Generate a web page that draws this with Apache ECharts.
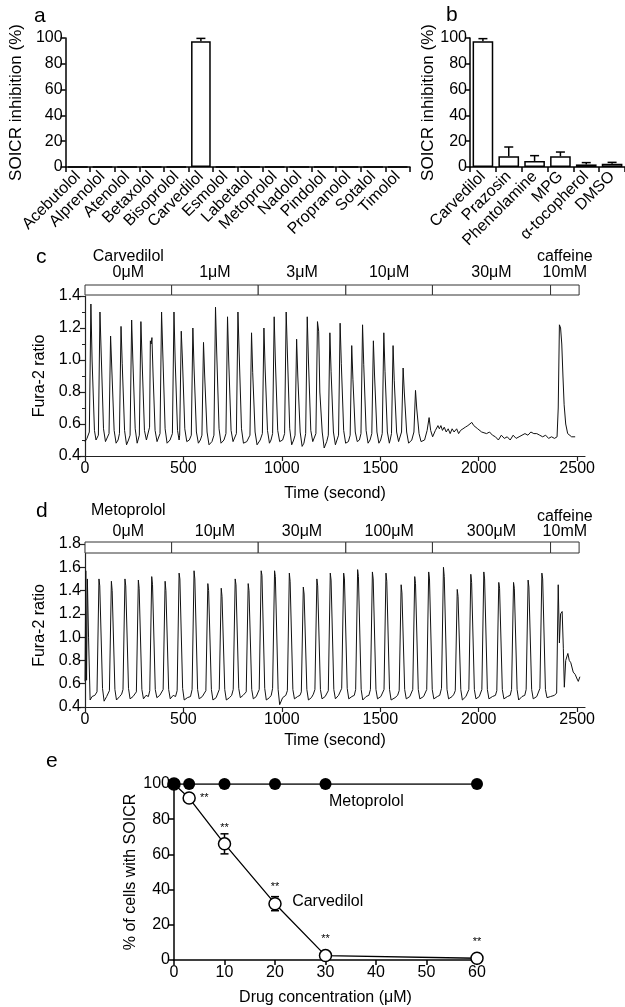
<!DOCTYPE html>
<html>
<head>
<meta charset="utf-8">
<script src="https://cdn.jsdelivr.net/npm/echarts@6/dist/echarts.min.js"></script>
<style>
  html, body { margin: 0; padding: 0; background: #fff; }
  #main { width: 625px; height: 1007px; }
</style>
</head>
<body>
<div id="main"></div>
<script>
var FONT = '"Liberation Sans", Arial, Helvetica, sans-serif';

// ---- panel a / b: SOICR inhibition
var catsA = ['Acebutolol', 'Alprenolol', 'Atenolol', 'Betaxolol', 'Bisoprolol', 'Carvedilol', 'Esmolol',
             'Labetalol', 'Metoprolol', 'Nadolol', 'Pindolol', 'Propranolol', 'Sotalol', 'Timolol'];
var valsA = [0, 0, 0, 0, 0, 97.5, 0, 0, 0, 0, 0, 0, 0, 0];
var errA  = [0, 0, 0, 0, 0, 2.2, 0, 0, 0, 0, 0, 0, 0, 0];

var catsB = ['Carvedilol', 'Prazosin', 'Phentolamine', 'MPG', 'α-tocopherol', 'DMSO'];
var valsB = [97.5, 8.3, 4.7, 8.3, 2, 2.6];
var errB  = [2, 7.2, 4.1, 3.3, 1.4, 1.0];

// ---- panel c / d: band of drug concentrations (seconds)
var bandEdges = [0, 440, 880, 1325, 1765, 2365, 2510];
var bandCConc = ['0μM', '1μM', '3μM', '10μM', '30μM', '10mM'];
var bandCTitle = ['Carvedilol', '', '', '', '', 'caffeine'];
var bandDConc = ['0μM', '10μM', '30μM', '100μM', '300μM', '10mM'];
var bandDTitle = ['Metoprolol', '', '', '', '', 'caffeine'];

// Fura-2 ratio trace, carvedilol experiment [time s, ratio]
var traceC = [
  [0,0.49],[10,0.51],[22,0.55],[30,1.35],[36,1.0],[48,0.56],[56,0.5],
  [68,0.53],[76,1.3],[82,1.05],[94,0.57],[104,0.49],[114,0.5],
  [122,0.54],[130,1.15],[136,0.95],[148,0.56],[158,0.48],[168,0.5],
  [175,0.54],[183,1.21],[189,0.98],[201,0.56],[211,0.47],[221,0.5],
  [229,0.53],[237,1.25],[243,1.0],[255,0.57],[265,0.48],
  [276,0.53],[284,1.24],[290,1.0],[302,0.56],[312,0.5],[322,0.51],
  [328,0.58],[332,1.12],[336,1.1],[340,1.14],[346,0.9],[356,0.56],[366,0.49],
  [381,0.54],[389,1.3],[395,1.05],[407,0.57],[417,0.48],[432,0.5],
  [444,0.54],[452,1.3],[458,1.0],[470,0.56],[478,0.5],
  [481,0.53],[489,1.18],[495,1.0],[507,0.57],[517,0.49],[530,0.5],
  [540,0.53],[548,1.2],[554,0.95],[566,0.55],[576,0.48],[586,0.5],
  [594,0.53],[602,1.11],[608,0.9],[620,0.55],[630,0.47],[645,0.49],
  [655,0.53],[663,1.33],[669,1.05],[681,0.57],[691,0.48],[706,0.5],
  [716,0.54],[724,1.27],[730,1.0],[742,0.56],[752,0.49],[762,0.5],
  [769,0.54],[777,1.3],[783,1.05],[795,0.57],[805,0.48],[822,0.49],[832,0.5],
  [838,0.53],[846,1.17],[852,0.92],[864,0.55],[874,0.47],[890,0.5],
  [901,0.54],[909,1.2],[915,0.95],[927,0.56],[937,0.48],[945,0.5],
  [953,0.54],[961,1.27],[967,1.0],[979,0.56],[989,0.49],[1004,0.5],
  [1014,0.54],[1022,1.3],[1028,1.05],[1040,0.57],[1050,0.47],[1060,0.5],
  [1067,0.53],[1075,1.13],[1081,0.9],[1093,0.55],[1103,0.46],[1112,0.48],
  [1121,0.54],[1129,1.27],[1135,1.0],[1147,0.56],[1157,0.49],[1165,0.5],
  [1173,0.54],[1181,1.24],[1187,1.18],[1193,0.8],[1205,0.55],[1215,0.45],[1228,0.49],
  [1236,0.53],[1244,1.17],[1250,0.93],[1262,0.55],[1272,0.47],[1280,0.5],
  [1288,0.53],[1296,1.23],[1302,0.98],[1314,0.56],[1324,0.48],[1338,0.49],
  [1347,0.53],[1355,1.09],[1361,0.88],[1373,0.55],[1383,0.49],[1394,0.5],
  [1402,0.54],[1410,1.22],[1416,0.97],[1428,0.56],[1438,0.48],[1448,0.5],
  [1457,0.54],[1465,1.12],[1471,0.9],[1483,0.55],[1493,0.48],[1502,0.5],
  [1510,0.54],[1518,1.17],[1524,0.93],[1536,0.55],[1546,0.48],[1550,0.5],
  [1557,0.54],[1565,1.09],[1571,0.87],[1583,0.55],[1593,0.49],[1600,0.5],
  [1608,0.55],[1616,0.95],[1622,0.8],[1634,0.55],[1644,0.48],[1660,0.5],
  [1671,0.55],[1679,0.81],[1685,0.7],[1697,0.54],[1707,0.49],[1725,0.5],
  [1738,0.56],[1748,0.64],[1756,0.56],[1766,0.52],
  [1780,0.56],[1793,0.59],[1800,0.57],[1808,0.59],[1816,0.56],[1825,0.58],[1835,0.55],
  [1845,0.57],[1855,0.54],[1865,0.57],[1875,0.55],[1888,0.57],[1898,0.54],[1908,0.56],
  [1920,0.57],[1932,0.58],[1945,0.59],[1955,0.6],[1965,0.61],[1975,0.59],[1985,0.6],
  [1995,0.57],[2005,0.58],[2015,0.55],[2025,0.56],[2040,0.54],[2055,0.55],[2070,0.53],
  [2085,0.52],[2100,0.5],[2115,0.53],[2130,0.51],[2145,0.52],[2160,0.5],[2175,0.53],
  [2190,0.51],[2205,0.52],[2220,0.53],[2235,0.54],[2250,0.53],[2265,0.55],[2280,0.54],
  [2295,0.54],[2310,0.53],[2325,0.52],[2340,0.53],[2355,0.51],[2370,0.52],[2385,0.51],
  [2398,0.52],[2404,0.7],[2410,1.22],[2416,1.2],[2422,1.1],[2428,0.9],[2434,0.72],
  [2442,0.6],[2452,0.54],[2462,0.53],[2472,0.52],[2482,0.53],[2490,0.52]
];

// Fura-2 ratio trace, metoprolol experiment [time s, ratio]
var traceD = [
  [0,0.62],[4,1.57],[8,0.63],[12,1.5],[18,1.0],[26,0.46],[36,0.49],[50,0.5],
  [61,0.53],[71,1.5],[75,1.44],[89,0.56],[97,0.45],[110,0.49],[118,0.5],
  [124,0.54],[134,1.48],[138,1.4],[152,0.55],[160,0.46],[176,0.49],[186,0.51],
  [193,0.55],[203,1.5],[207,1.44],[221,0.56],[229,0.47],[244,0.49],[254,0.5],
  [261,0.53],[271,1.49],[275,1.42],[289,0.55],[297,0.47],[310,0.5],[322,0.49],
  [329,0.54],[339,1.52],[343,1.45],[357,0.55],[365,0.48],[380,0.5],[390,0.49],
  [397,0.55],[407,1.48],[411,1.4],[425,0.55],[433,0.47],[448,0.5],[460,0.49],
  [468,0.54],[478,1.55],[482,1.5],[496,0.56],[504,0.46],[520,0.48],[536,0.49],
  [544,0.55],[554,1.57],[558,1.5],[572,0.55],[580,0.47],[596,0.49],[606,0.5],
  [614,0.54],[624,1.46],[628,1.4],[642,0.55],[650,0.46],[666,0.48],[676,0.49],
  [682,0.55],[692,1.42],[696,1.35],[710,0.55],[718,0.46],[734,0.48],[745,0.5],
  [753,0.55],[763,1.5],[767,1.45],[781,0.56],[789,0.48],[803,0.5],[812,0.49],
  [819,0.53],[829,1.46],[833,1.4],[847,0.55],[855,0.47],[870,0.49],[878,0.5],
  [885,0.55],[895,1.57],[899,1.53],[913,0.56],[921,0.46],[937,0.48],[946,0.5],
  [953,0.56],[963,1.57],[967,1.52],[981,0.55],[989,0.42],[1004,0.48],[1020,0.5],
  [1028,0.54],[1038,1.55],[1042,1.48],[1056,0.55],[1064,0.47],[1080,0.49],[1092,0.5],
  [1099,0.53],[1109,1.43],[1113,1.37],[1127,0.55],[1135,0.46],[1150,0.48],[1160,0.51],
  [1168,0.55],[1178,1.5],[1182,1.44],[1196,0.55],[1204,0.47],[1220,0.49],[1229,0.5],
  [1236,0.54],[1246,1.55],[1250,1.49],[1264,0.55],[1272,0.47],[1288,0.5],[1296,0.49],
  [1304,0.56],[1314,1.55],[1318,1.5],[1332,0.56],[1340,0.47],[1356,0.49],[1368,0.5],
  [1375,0.55],[1385,1.58],[1389,1.52],[1403,0.55],[1411,0.46],[1428,0.49],[1442,0.5],
  [1450,0.55],[1460,1.56],[1464,1.5],[1478,0.55],[1486,0.47],[1503,0.49],[1512,0.5],
  [1519,0.55],[1529,1.55],[1533,1.48],[1547,0.55],[1555,0.46],[1575,0.48],[1588,0.5],
  [1596,0.54],[1606,1.45],[1610,1.38],[1624,0.55],[1632,0.47],[1650,0.49],[1658,0.5],
  [1665,0.55],[1675,1.52],[1679,1.46],[1693,0.55],[1701,0.47],[1720,0.49],[1729,0.5],
  [1736,0.55],[1746,1.56],[1750,1.5],[1764,0.55],[1772,0.47],[1790,0.49],[1802,0.5],
  [1811,0.56],[1821,1.6],[1825,1.52],[1839,0.55],[1847,0.47],[1865,0.49],[1874,0.51],
  [1881,0.54],[1891,1.41],[1895,1.35],[1909,0.55],[1917,0.46],[1935,0.49],[1943,0.5],
  [1950,0.55],[1960,1.54],[1964,1.47],[1978,0.55],[1986,0.47],[2003,0.49],[2010,0.5],
  [2016,0.55],[2026,1.56],[2030,1.5],[2044,0.55],[2052,0.47],[2070,0.49],[2085,0.5],
  [2092,0.54],[2102,1.47],[2106,1.42],[2120,0.55],[2128,0.47],[2146,0.49],[2160,0.5],
  [2167,0.55],[2177,1.47],[2181,1.42],[2195,0.55],[2203,0.46],[2220,0.49],[2234,0.5],
  [2241,0.55],[2251,1.49],[2255,1.43],[2269,0.55],[2277,0.47],[2295,0.49],[2303,0.5],
  [2311,0.56],[2321,1.55],[2325,1.5],[2339,0.55],[2347,0.48],[2365,0.49],[2385,0.5],
  [2396,0.52],[2404,1.45],[2410,0.95],[2416,1.2],[2424,1.22],[2430,0.9],[2435,0.57],
  [2442,0.8],[2453,0.86],[2460,0.8],[2468,0.78],[2480,0.7],[2490,0.68],[2500,0.64],
  [2506,0.62],[2514,0.66]
];

// ---- panel e: % of cells with SOICR
var concE = [0, 3, 10, 20, 30, 60];
var metoE = [100, 100, 100, 100, 100, 100];
var carvE = [100, 92, 66, 32, 2.5, 1];
var carvErrE = [0, 0, 5.7, 4, 0, 0];
var sigE = ['', '**', '**', '**', '**', '**'];

var myChart = echarts.init(document.getElementById('main'));

function catErrRender(params, api) {
  var v = api.value(1), e = api.value(2);
  if (!e) return;
  var p0 = api.coord([api.value(0), v]);
  var p1 = api.coord([api.value(0), v + e]);
  var st = { stroke: '#000', lineWidth: 1.5 };
  return {
    type: 'group',
    children: [
      { type: 'line', shape: { x1: p0[0], y1: p0[1], x2: p1[0], y2: p1[1] }, style: st },
      { type: 'line', shape: { x1: p1[0] - 4.5, y1: p1[1], x2: p1[0] + 4.5, y2: p1[1] }, style: st }
    ]
  };
}

function bandRender(conc, title, concGap, titleGap) {
  return function (params, api) {
    var i = params.dataIndex;
    var p0 = api.coord([api.value(0), 1]);
    var p1 = api.coord([api.value(1), 0]);
    var cx = (p0[0] + p1[0]) / 2;
    var kids = [
      { type: 'rect', shape: { x: p0[0], y: p0[1], width: p1[0] - p0[0], height: p1[1] - p0[1] },
        style: { fill: '#fff', stroke: '#333', lineWidth: 1 } },
      { type: 'text', style: { text: conc[i], x: cx, y: p0[1] - concGap, align: 'center', verticalAlign: 'middle',
        fontSize: 16, fontFamily: FONT, fill: '#000' } }
    ];
    if (title[i]) {
      kids.push({ type: 'text', style: { text: title[i], x: cx, y: p0[1] - titleGap[i], align: 'center',
        verticalAlign: 'middle', fontSize: 16, fontFamily: FONT, fill: '#000' } });
    }
    return { type: 'group', children: kids };
  };
}

function bandData() {
  var d = [];
  for (var i = 0; i < bandEdges.length - 1; i++) d.push([bandEdges[i], bandEdges[i + 1]]);
  return d;
}

function eErrRender(params, api) {
  var e = api.value(2);
  if (!e) return;
  var x = api.value(0), v = api.value(1);
  var lo = api.coord([x, v - e]), hi = api.coord([x, v + e]);
  var st = { stroke: '#000', lineWidth: 1.5 };
  return {
    type: 'group',
    children: [
      { type: 'line', shape: { x1: lo[0], y1: lo[1], x2: hi[0], y2: hi[1] }, style: st },
      { type: 'line', shape: { x1: hi[0] - 4, y1: hi[1], x2: hi[0] + 4, y2: hi[1] }, style: st },
      { type: 'line', shape: { x1: lo[0] - 4, y1: lo[1], x2: lo[0] + 4, y2: lo[1] }, style: st }
    ]
  };
}

var blackAxis = { lineStyle: { color: '#000', width: 1.5 } };
var tick5 = { show: true, length: 5, lineStyle: { color: '#000', width: 1.5 } };

function pctAxis(gridIndex) {
  return {
    type: 'value', gridIndex: gridIndex, min: 0, max: 100, interval: 20,
    name: 'SOICR inhibition (%)', nameLocation: 'middle', nameGap: 33,
    nameTextStyle: { fontSize: 17, fontFamily: FONT, color: '#000' },
    axisLine: Object.assign({ show: true }, blackAxis), axisTick: tick5,
    axisLabel: { fontSize: 16, fontFamily: FONT, color: '#000', margin: 3 },
    splitLine: { show: false }
  };
}

function catAxis(gridIndex, cats) {
  return {
    type: 'category', gridIndex: gridIndex, data: cats,
    axisLine: blackAxis, axisTick: tick5,
    axisLabel: { rotate: 45, interval: 0, fontSize: 16, fontFamily: FONT, color: '#000', margin: 7 }
  };
}

function timeAxis(gridIndex, nameGap) {
  return {
    type: 'value', gridIndex: gridIndex, min: 0, max: 2540, interval: 500,
    name: 'Time (second)', nameLocation: 'middle', nameGap: nameGap,
    nameTextStyle: { fontSize: 16, fontFamily: FONT, color: '#000' },
    axisLine: { lineStyle: { color: '#222', width: 1.2 } },
    axisTick: { length: 5, lineStyle: { color: '#222', width: 1.2 } },
    axisLabel: { fontSize: 16, fontFamily: FONT, color: '#000', margin: 5,
      formatter: function (v) { return String(v); } },
    splitLine: { show: false }
  };
}

function ratioAxis(gridIndex, min, max, minor) {
  return {
    type: 'value', gridIndex: gridIndex, min: min, max: max, interval: 0.2,
    name: 'Fura-2 ratio', nameLocation: 'middle', nameGap: 32,
    nameTextStyle: { fontSize: 16, fontFamily: FONT, color: '#000' },
    axisLine: { show: true, lineStyle: { color: '#222', width: 1.2 } },
    axisTick: { length: 5, lineStyle: { color: '#222', width: 1.2 } },
    minorTick: { show: minor, splitNumber: 2, length: 3, lineStyle: { color: '#222', width: 1 } },
    axisLabel: { fontSize: 16, fontFamily: FONT, color: '#000', margin: 4,
      formatter: function (v) { return v.toFixed(1); } },
    splitLine: { show: false }
  };
}

function hiddenAxis(type, gridIndex, min, max) {
  return { type: type, gridIndex: gridIndex, min: min, max: max, show: false };
}

function panelLetter(txt, x, y) {
  return { type: 'text', left: x, top: y,
    style: { text: txt, fontSize: 21, fontFamily: FONT, fill: '#000' } };
}

option = {
  animation: false,
  backgroundColor: '#fff',
  graphic: [
    panelLetter('a', 34, 6),
    panelLetter('b', 446, 5),
    panelLetter('c', 36, 247),
    panelLetter('d', 36, 501),
    panelLetter('e', 46, 751)
  ],
  grid: [
    { left: 63, top: 38, width: 347, height: 129 },   // a
    { left: 470, top: 38, width: 155, height: 129 },  // b
    { left: 85, top: 296, width: 500, height: 160 },  // c
    { left: 85, top: 285, width: 500, height: 10 },   // c band
    { left: 85, top: 544, width: 500, height: 163 },  // d
    { left: 85, top: 542, width: 500, height: 11 },   // d band
    { left: 174, top: 784, width: 303, height: 176 }  // e
  ],
  xAxis: [
    catAxis(0, catsA),
    catAxis(1, catsB),
    timeAxis(2, 30),
    hiddenAxis('value', 3, 0, 2540),
    timeAxis(4, 26),
    hiddenAxis('value', 5, 0, 2540),
    {
      type: 'value', gridIndex: 6, min: 0, max: 60, interval: 10,
      name: 'Drug concentration (μM)', nameLocation: 'middle', nameGap: 30,
      nameTextStyle: { fontSize: 16, fontFamily: FONT, color: '#000' },
      axisLine: blackAxis, axisTick: tick5,
      axisLabel: { fontSize: 16, fontFamily: FONT, color: '#000', margin: 5 },
      splitLine: { show: false }
    }
  ],
  yAxis: [
    pctAxis(0),
    pctAxis(1),
    ratioAxis(2, 0.4, 1.4, true),
    hiddenAxis('value', 3, 0, 1),
    ratioAxis(4, 0.4, 1.8, false),
    hiddenAxis('value', 5, 0, 1),
    {
      type: 'value', gridIndex: 6, min: 0, max: 100, interval: 20,
      name: '% of cells with SOICR', nameLocation: 'middle', nameGap: 35,
      nameTextStyle: { fontSize: 16, fontFamily: FONT, color: '#000' },
      axisLine: Object.assign({ show: true }, blackAxis), axisTick: tick5,
      axisLabel: { fontSize: 16, fontFamily: FONT, color: '#000', margin: 4 },
      splitLine: { show: false }
    }
  ],
  series: [
    // a
    { type: 'bar', xAxisIndex: 0, yAxisIndex: 0, data: valsA, barWidth: '80%',
      itemStyle: { color: '#fff', borderColor: '#000', borderWidth: 1.5 } },
    { type: 'custom', xAxisIndex: 0, yAxisIndex: 0, renderItem: catErrRender,
      data: catsA.map(function (c, i) { return [c, valsA[i], errA[i]]; }), encode: { x: 0, y: 1 } },
    // b
    { type: 'bar', xAxisIndex: 1, yAxisIndex: 1, data: valsB, barWidth: '80%',
      itemStyle: { color: '#fff', borderColor: '#000', borderWidth: 1.5 } },
    { type: 'custom', xAxisIndex: 1, yAxisIndex: 1, renderItem: catErrRender,
      data: catsB.map(function (c, i) { return [c, valsB[i], errB[i]]; }), encode: { x: 0, y: 1 } },
    // c
    { type: 'line', xAxisIndex: 2, yAxisIndex: 2, data: traceC, showSymbol: false,
      lineStyle: { color: '#111', width: 1 } },
    { type: 'custom', xAxisIndex: 3, yAxisIndex: 3, data: bandData(), encode: { x: [0, 1] },
      renderItem: bandRender(bandCConc, bandCTitle, 12, [28, 0, 0, 0, 0, 28]) },
    // d
    { type: 'line', xAxisIndex: 4, yAxisIndex: 4, data: traceD, showSymbol: false,
      lineStyle: { color: '#111', width: 1 } },
    { type: 'custom', xAxisIndex: 5, yAxisIndex: 5, data: bandData(), encode: { x: [0, 1] },
      renderItem: bandRender(bandDConc, bandDTitle, 10, [31, 0, 0, 0, 0, 25]) },
    // e
    { type: 'custom', xAxisIndex: 6, yAxisIndex: 6, renderItem: eErrRender, z: 1,
      data: concE.map(function (c, i) { return [c, carvE[i], carvErrE[i]]; }), encode: { x: 0, y: 1 } },
    { type: 'line', xAxisIndex: 6, yAxisIndex: 6, z: 3,
      data: concE.map(function (c, i) {
        return { value: [c, carvE[i]], label: { position: i === 1 ? 'right' : 'top' } };
      }),
      symbol: 'circle', symbolSize: 12,
      lineStyle: { color: '#000', width: 1.3 },
      itemStyle: { color: '#fff', borderColor: '#000', borderWidth: 1.5 },
      label: { show: true, fontSize: 11, fontFamily: FONT, color: '#000', distance: 4,
        formatter: function (p) { return sigE[p.dataIndex]; } },
      markPoint: { symbol: 'circle', symbolSize: 1, itemStyle: { color: 'rgba(0,0,0,0)' },
        label: { show: true, position: 'right', distance: 0, fontSize: 16, fontFamily: FONT, color: '#000',
          formatter: '{b}' },
        data: [{ name: 'Carvedilol', coord: [23.3, 33] }] } },
    { type: 'line', xAxisIndex: 6, yAxisIndex: 6, z: 4,
      data: concE.map(function (c, i) { return [c, metoE[i]]; }),
      symbol: 'circle', symbolSize: 12,
      lineStyle: { color: '#000', width: 1.3 },
      itemStyle: { color: '#000' },
      markPoint: { symbol: 'circle', symbolSize: 1, itemStyle: { color: 'rgba(0,0,0,0)' },
        label: { show: true, position: 'right', distance: 0, fontSize: 16, fontFamily: FONT, color: '#000',
          formatter: '{b}' },
        data: [{ name: 'Metoprolol', coord: [30.6, 90] }] } }
  ]
};

myChart.setOption(option);
</script>
</body>
</html>
